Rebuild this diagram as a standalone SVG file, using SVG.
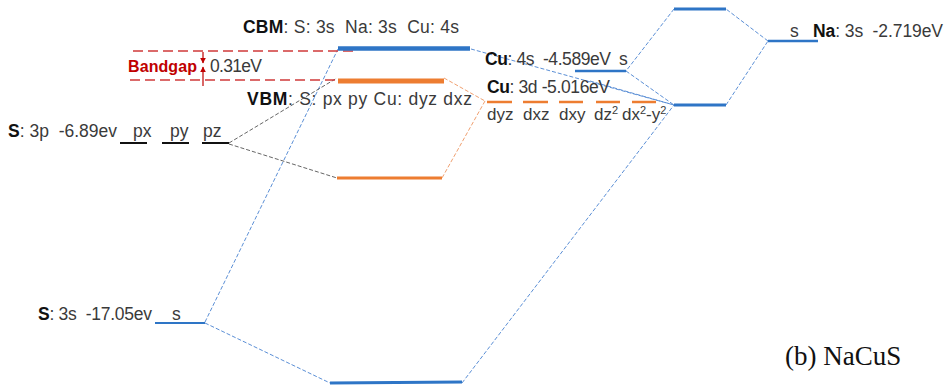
<svg xmlns="http://www.w3.org/2000/svg" width="946" height="387" viewBox="0 0 946 387">
<style>
text{font-family:"Liberation Sans","Noto Sans",Arial,sans-serif;font-size:17.5px;fill:#3a3a3a;white-space:pre}
.b{font-weight:bold;fill:#111}
.bl{stroke:#2e75c6;fill:none}
.or{stroke:#ed7d31;fill:none}
.blk{stroke:#111;stroke-width:2;fill:none}
.cb{stroke:#5b8fd6;stroke-width:1;stroke-dasharray:4 2;fill:none}
.cg{stroke:#666;stroke-width:1;stroke-dasharray:4 2;fill:none}
.co{stroke:#f0a070;stroke-width:1;stroke-dasharray:4 2;fill:none}
.rd{stroke:#d03a3a;stroke-width:1.3;stroke-dasharray:10 5;fill:none}
.sm{font-size:17px}
</style>
<defs>
<marker id="ah" viewBox="0 0 10 10" refX="9" refY="5" markerWidth="5" markerHeight="5" orient="auto"><path d="M0,0 L10,5 L0,10 z" fill="#c00000"/></marker>
</defs>
<rect width="946" height="387" fill="#fff"/>
<g id="connectors">
<line class="cb" x1="205" y1="322" x2="338" y2="49"/>
<line class="cb" x1="205" y1="323" x2="330" y2="383"/>
<line class="cb" x1="462" y1="383" x2="674" y2="105"/>
<line class="cb" x1="726" y1="105" x2="768" y2="41"/>
<line class="cb" x1="768" y1="41" x2="726" y2="9"/>
<line class="cb" x1="674" y1="9" x2="626" y2="71"/>
<line class="cb" x1="626" y1="71" x2="674" y2="105"/>
<line class="cb" x1="471" y1="49" x2="674" y2="105"/>
<line class="cb" x1="590" y1="81" x2="674" y2="105"/>
<line class="cg" x1="229" y1="143" x2="337" y2="78"/>
<line class="cg" x1="229" y1="144" x2="337" y2="178"/>
<line class="co" x1="444" y1="78" x2="485" y2="101"/>
<line class="co" x1="485" y1="101" x2="442" y2="178"/>
</g>
<g id="bandgap">
<line class="rd" x1="133" y1="51" x2="358" y2="51"/>
<line class="rd" x1="130" y1="80" x2="353" y2="80"/>
<line x1="203" y1="52" x2="203" y2="63" stroke="#c00000" stroke-width="1.2" marker-end="url(#ah)"/>
<line x1="203" y1="86" x2="203" y2="67" stroke="#c00000" stroke-width="1.2" marker-end="url(#ah)"/>
<text x="128" y="72" textLength="69" style="font-weight:bold;fill:#c00000;font-size:16px">Bandgap</text>
<text x="210" y="72" textLength="52">0.31eV</text>
</g>
<g id="cbm">
<line class="bl" x1="338" y1="48.5" x2="470" y2="48.5" stroke-width="4.5"/>
<text x="243" y="33" textLength="216"><tspan class="b">CBM</tspan>: S: 3s  Na: 3s  Cu: 4s</text>
</g>
<g id="vbm">
<line class="or" x1="338" y1="81" x2="444" y2="81" stroke-width="5"/>
<text x="247" y="105" textLength="225"><tspan class="b">VBM</tspan>: S: px py Cu: dyz dxz</text>
</g>
<g id="s3p">
<text x="8" y="137" textLength="109"><tspan class="b">S</tspan>: 3p  -6.89ev</text>
<line class="blk" x1="120" y1="143" x2="147" y2="143"/>
<line class="blk" x1="162" y1="143" x2="189" y2="143"/>
<line class="blk" x1="202" y1="143" x2="229" y2="143"/>
<text x="133" y="137">px</text>
<text x="170" y="137">py</text>
<text x="203" y="137">pz</text>
</g>
<g id="lower-orange">
<line class="or" x1="337" y1="178" x2="442" y2="178" stroke-width="3"/>
</g>
<g id="cu4s">
<line class="bl" x1="575" y1="71" x2="626" y2="71" stroke-width="2.5"/>
<text x="485" y="65" textLength="126"><tspan class="b">Cu</tspan>: 4s  -4.589eV</text>
<text x="619" y="65">s</text>
</g>
<g id="cu3d">
<text x="487" y="93" textLength="123"><tspan class="b">Cu</tspan>: 3d -5.016eV</text>
<g class="or" stroke-width="2.5">
<line x1="487" y1="102" x2="512" y2="102"/>
<line x1="523" y1="102" x2="548" y2="102"/>
<line x1="559" y1="102" x2="583" y2="102"/>
<line x1="596" y1="102" x2="620" y2="102"/>
<line x1="632" y1="102" x2="656" y2="102"/>
</g>
<text class="sm" x="487" y="120">dyz</text>
<text class="sm" x="523" y="120">dxz</text>
<text class="sm" x="559" y="120">dxy</text>
<text class="sm" x="594" y="120">dz<tspan dy="-6" font-size="11">2</tspan></text>
<text class="sm" x="622" y="120">dx<tspan dy="-6" font-size="11">2</tspan><tspan dy="6">-y</tspan><tspan dy="-6" font-size="11">2</tspan></text>
</g>
<g id="top-level">
<line class="bl" x1="674" y1="9" x2="726" y2="9" stroke-width="3"/>
</g>
<g id="mid-level">
<line class="bl" x1="674" y1="105" x2="726" y2="105" stroke-width="3"/>
</g>
<g id="na3s">
<line class="bl" x1="768" y1="41" x2="818" y2="41" stroke-width="2.5"/>
<text x="790" y="37">s</text>
<text x="813" y="37" textLength="130"><tspan class="b">Na</tspan>: 3s  -2.719eV</text>
</g>
<g id="s3s">
<line class="bl" x1="155" y1="323" x2="205" y2="323" stroke-width="2"/>
<text x="38" y="320" textLength="114"><tspan class="b">S</tspan>: 3s  -17.05ev</text>
<text x="172" y="320">s</text>
</g>
<g id="bottom-level">
<line class="bl" x1="330" y1="383" x2="462" y2="382" stroke-width="3"/>
</g>
<text x="785" y="365" style="font-family:'Liberation Serif','Times New Roman',serif;font-size:27px;fill:#111">(b) NaCuS</text>
</svg>
